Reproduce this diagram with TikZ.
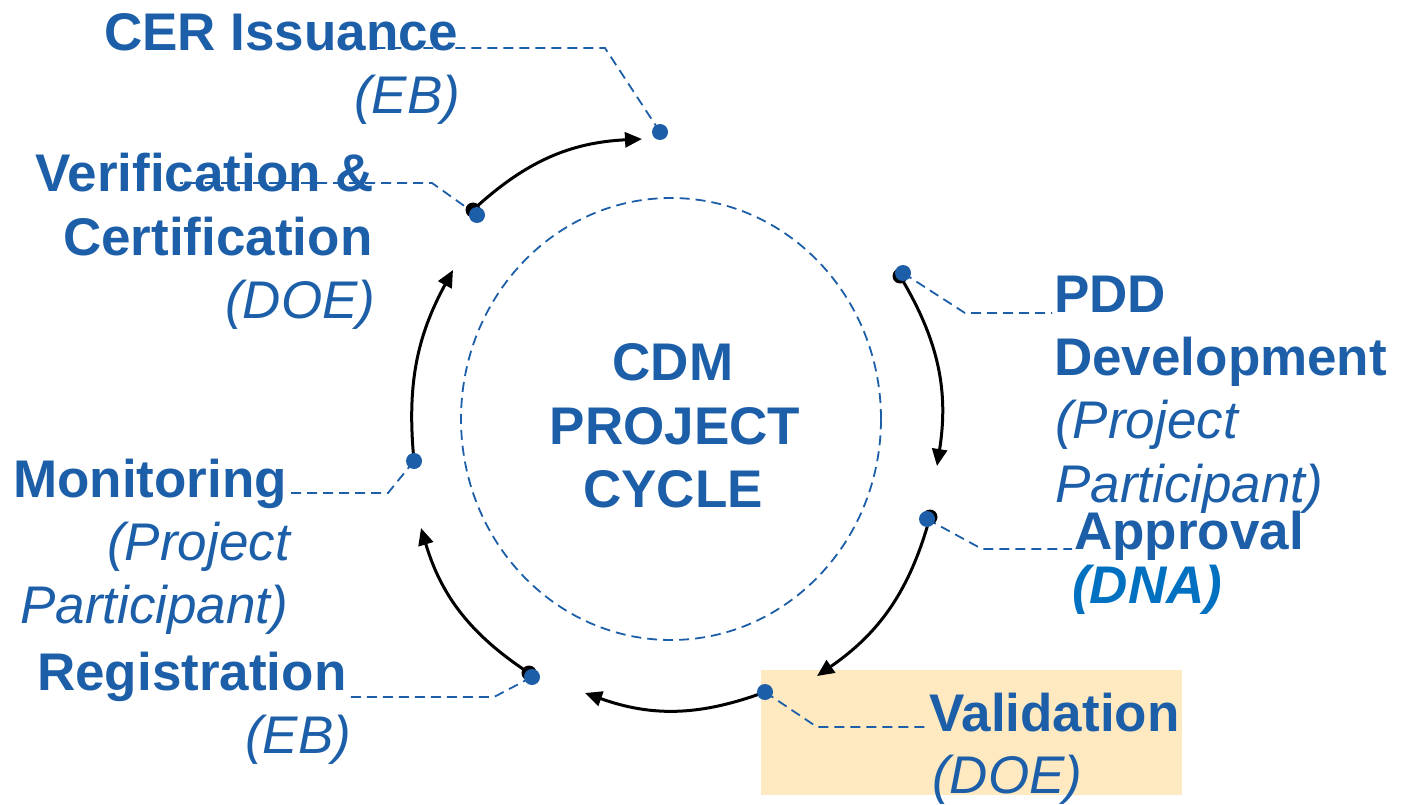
\documentclass[tikz,border=0pt]{standalone}
\usepackage{fontspec}
\setmainfont{Liberation Sans}
\usetikzlibrary{arrows.meta,shapes.geometric}
\definecolor{cdmblue}{RGB}{28,95,168}
\definecolor{dnablue}{RGB}{0,112,192}
\definecolor{hlfill}{RGB}{254,233,193}
\tikzset{
  ring/.style={draw=cdmblue, ellipse, inner sep=0pt, dash pattern=on 10pt off 6pt, line width=1.8pt},
  leader/.style={draw=cdmblue, dash pattern=on 10pt off 6pt, line width=1.8pt},
  flow/.style={draw=black, line width=3pt, -{Triangle[length=17pt,width=15pt]}},
  stagedot/.style={circle, fill=cdmblue, inner sep=0pt, minimum size=16pt},
  blob/.style={circle, fill=black, inner sep=0pt, minimum size=15pt},
  steptitle/.style={font=\bfseries\fontsize{53}{62}\selectfont, text=cdmblue, inner sep=0pt},
  stepsub/.style={font=\itshape\fontsize{53}{62}\selectfont, text=cdmblue, inner sep=0pt}
}

\begin{document}
\begin{tikzpicture}[x=1pt,y=-1pt]
\useasboundingbox (0,0) rectangle (1402,805);
% highlighted stage
\fill[hlfill] (761,670) rectangle (1182,795);

% centre ring
\node[ring, minimum width=420pt, minimum height=442pt] (ring) at (671,419) {};

% stage points
\coordinate (cerPt) at (660,132);
\coordinate (verPt) at (477,215);
\coordinate (pddPt) at (903,273);
\coordinate (appPt) at (927,519);
\coordinate (valPt) at (765,692);
\coordinate (regPt) at (532,677);
\coordinate (monPt) at (414,461);

% leader lines
\coordinate (cerKnee) at (605,48);   \coordinate (cerEnd) at (372,48);
\coordinate (verKnee) at (432,183);  \coordinate (verEnd) at (180,183);
\coordinate (pddKnee) at (965,313);  \coordinate (pddEnd) at (1052,313);
\coordinate (appKnee) at (982,549);  \coordinate (appEnd) at (1072,549);
\coordinate (valKnee) at (817,727);  \coordinate (valEnd) at (930,727);
\coordinate (regKnee) at (494,697);  \coordinate (regEnd) at (348,697);
\coordinate (monKnee) at (388,493);  \coordinate (monEnd) at (290,493);
\foreach \s in {cer,ver,pdd,app,val,reg,mon}
  \draw[leader] (\s Pt) -- (\s Knee) -- (\s End);

% arrow tails
\node[blob] (verBlob) at (473,210) {};
\node[blob] (pddBlob) at (900,276) {};
\node[blob] (appBlob) at (930,517) {};
\node[blob] (regBlob) at (529,673) {};

% cycle arrows
\coordinate (cerTip) at (642,139);
\coordinate (pddTip) at (937,466);
\coordinate (appTip) at (817,676);
\coordinate (valTip) at (585,693);
\coordinate (regTip) at (421,528);
\coordinate (monTip) at (453,270);
\draw[flow] (verBlob.center) to[bend left=20] (cerTip);
\draw[flow] (pddBlob.center) to[bend left=20] (pddTip);
\draw[flow] (appBlob.center) to[bend left=20] (appTip);
\draw[flow] (valPt) to[bend left=20] (valTip);
\draw[flow] (regBlob.center) to[bend left=20] (regTip);
\draw[flow] (monPt) to[bend left=17] (monTip);

% stage dots
\foreach \s in {cer,ver,pdd,app,val,reg,mon}
  \node[stagedot] (\s Dot) at (\s Pt) {};

% centre title
\node[steptitle, anchor=base] (cdmA) at (673,380) {CDM};
\node[steptitle, anchor=base] (cdmB) at (675,444) {PROJECT};
\node[steptitle, anchor=base] (cdmC) at (673,507) {CYCLE};

% left labels
\node[steptitle, anchor=base west] (cerA) at (104,51) {CER Issuance};
\node[stepsub, anchor=base west] (cerB) at (354,114) {(EB)};
\node[steptitle, anchor=base west] (verA) at (35,192) {Verification \&};
\node[steptitle, anchor=base west] (verB) at (63,255) {Certification};
\node[stepsub, anchor=base west] (verC) at (225,318) {(DOE)};
\node[steptitle, anchor=base west] (monA) at (13,497) {Monitoring};
\node[stepsub, anchor=base west] (monB) at (107,560) {(Project};
\node[stepsub, anchor=base west] (monC) at (20,623) {Participant)};
\node[steptitle, anchor=base west] (regA) at (37,690) {Registration};
\node[stepsub, anchor=base west] (regB) at (245,753) {(EB)};

% right labels
\node[steptitle, anchor=base west] (pddA) at (1054,312) {PDD};
\node[steptitle, anchor=base west] (pddB) at (1054,375) {Development};
\node[stepsub, anchor=base west] (pddC) at (1055,438) {(Project};
\node[stepsub, anchor=base west] (pddD) at (1055,502) {Participant)};
\node[steptitle, anchor=base west] (appA) at (1074,549) {Approval};
\node[steptitle, anchor=base west, font=\bfseries\itshape\fontsize{53}{62}\selectfont, text=dnablue] (appB) at (1072,603) {(DNA)};
\node[steptitle, anchor=base west] (valA) at (929,731) {Validation};
\node[stepsub, anchor=base west] (valB) at (932,793) {(DOE)};
\end{tikzpicture}
\end{document}
